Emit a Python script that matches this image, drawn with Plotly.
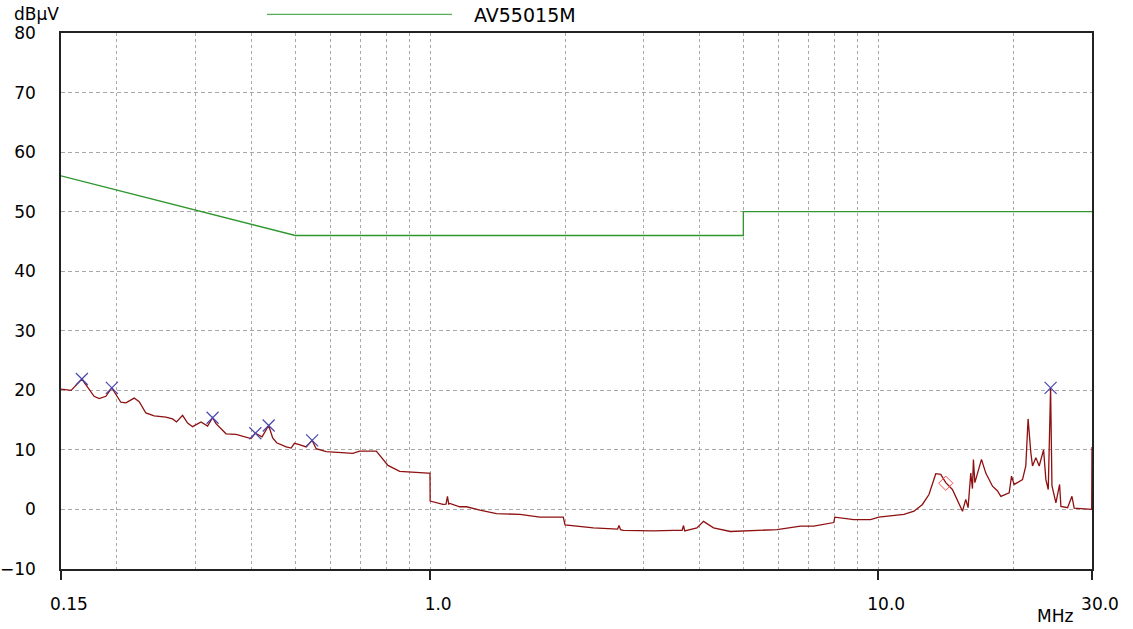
import plotly.graph_objects as go
import numpy as np

# ---- data ----
freq_mhz = [0.150, 0.158, 0.167, 0.1778, 0.1825, 0.1889, 0.1948, 0.2040, 0.2094, 0.2185,
            0.2242, 0.2320, 0.2421, 0.2571, 0.2661, 0.2716, 0.2802, 0.2875, 0.2950, 0.3080,
            0.3186, 0.3269, 0.3327, 0.3503, 0.3687, 0.3848, 0.3983, 0.4072, 0.4215, 0.4361,
            0.4452, 0.4544, 0.4771, 0.4894, 0.4978, 0.5108, 0.5288, 0.5453, 0.5566, 0.5861,
            0.6276, 0.6722, 0.6958, 0.7582, 0.8051, 0.8550, 0.989, 0.999, 1.000, 1.068,
            1.085, 1.093, 1.100, 1.106, 1.164, 1.205, 1.291, 1.406, 1.586, 1.758,
            1.982, 2.000, 2.313, 2.620, 2.640, 2.660, 2.700, 3.150, 3.493, 3.650,
            3.677, 3.700, 3.741, 3.939, 4.075, 4.290, 4.676, 5.272, 5.948, 6.707,
            7.181, 7.959, 8.000, 8.823, 9.614, 10.03, 11.41, 12.02, 12.55, 12.98,
            13.44, 13.79, 14.15, 14.64, 15.03, 15.42, 15.68, 15.87, 16.09, 16.23,
            16.31, 16.43, 16.59, 17.00, 17.38, 17.99, 18.46, 18.78, 19.60, 19.84,
            20.11, 20.99, 21.35, 21.60, 21.91, 22.10, 22.48, 22.87, 23.39, 23.67,
            23.96, 24.13, 24.25, 24.42, 24.92, 25.40, 25.57, 26.46, 27.06, 27.38,
            29.84, 29.95, 30.0]
level_dbuv = [20.2, 20.0, 21.9, 19.0, 18.6, 19.0, 20.4, 18.0, 17.9, 18.7,
              18.1, 16.2, 15.7, 15.5, 15.2, 14.7, 15.8, 14.5, 13.9, 14.7,
              14.0, 15.4, 14.4, 12.7, 12.6, 12.2, 11.9, 12.8, 12.2, 14.1,
              12.0, 11.2, 10.5, 10.3, 11.1, 10.9, 10.5, 11.6, 10.2, 9.7,
              9.5, 9.4, 9.8, 9.8, 7.4, 6.4, 6.1, 6.1, 1.4, 0.84,
              0.9, 2.2, 0.9, 1.0, 0.45, 0.45, -0.1, -0.7, -0.84, -1.3,
              -1.3, -2.6, -3.1, -3.3, -2.7, -3.4, -3.5, -3.6, -3.5, -3.5,
              -2.7, -3.6, -3.5, -3.1, -2.0, -3.1, -3.7, -3.5, -3.4, -2.8,
              -2.8, -2.2, -1.3, -1.7, -1.7, -1.3, -0.84, -0.3, 0.84, 2.5,
              6.0, 5.9, 4.5, 3.35, 1.4, -0.3, 1.7, 0.3, 6.1, 3.5,
              8.4, 4.5, 5.6, 8.4, 6.1, 3.9, 3.1, 2.2, 2.8, 5.6,
              4.2, 5.0, 7.3, 15.2, 9.5, 7.3, 8.7, 7.3, 10.0, 5.0,
              3.35, 11.7, 20.4, 4.0, 1.1, 4.2, 0.5, 0.3, 2.2, 0.2,
              0.0, 0.0, 10.5]

peak_freq = [0.167, 0.1948, 0.3269, 0.4072, 0.4361, 0.5453, 24.25]
peak_level = [21.9, 20.4, 15.4, 12.8, 14.1, 11.6, 20.4]

diamond_freq = [14.15]
diamond_level = [4.4]

limit_freq = [0.15, 0.5, 5.0, 5.0, 30.0]
limit_level = [56, 46, 46, 50, 50]
limit_name = "AV55015M"

x_tickvals = [0.15, 1.0, 10.0, 30.0]
x_ticktext = ["0.15", "1.0", "10.0", "30.0"]
x_minor_grid = [0.2, 0.3, 0.4, 0.5, 0.6, 0.7, 0.8, 0.9,
                2, 3, 4, 5, 6, 7, 8, 9, 20]
y_tickvals = [-10, 0, 10, 20, 30, 40, 50, 60, 70, 80]

FONT = "DejaVu Sans"
GREEN = "#2f962f"
RED = "#8e1010"

fig = go.Figure()
fig.add_trace(go.Scatter(x=limit_freq, y=limit_level, mode="lines",
                         line=dict(color=GREEN, width=1.3), name=limit_name,
                         showlegend=False, hoverinfo="skip"))
fig.add_trace(go.Scatter(x=freq_mhz, y=level_dbuv, mode="lines",
                         line=dict(color=RED, width=1.3), showlegend=False))
fig.add_trace(go.Scatter(x=peak_freq, y=peak_level, mode="markers",
                         marker=dict(symbol="x-thin", size=12, color="#4848b0",
                                     line=dict(color="#4848b0", width=1.2)),
                         showlegend=False))
fig.add_trace(go.Scatter(x=diamond_freq, y=diamond_level, mode="markers",
                         marker=dict(symbol="diamond-open", size=11, color="#ff4a4a",
                                     line=dict(color="#ff4a4a", width=1)),
                         showlegend=False))

# legend line + text (drawn manually to match the long sample line)
fig.add_shape(type="line", xref="paper", yref="paper",
              x0=0.1998, x1=0.3792, y0=1.0349, y1=1.0349,
              line=dict(color="#55b055", width=1.3))
fig.add_annotation(text=limit_name, xref="paper", yref="paper",
                   x=0.3986, y=(569 - 15) / 536, xanchor="left", yanchor="middle",
                   showarrow=False, font=dict(family=FONT, size=19, color="black"))
fig.add_annotation(text="dBµV", xref="paper", yref="paper",
                   x=-0.0233, y=(569 - 14) / 536, xanchor="center", yanchor="middle",
                   showarrow=False, font=dict(family=FONT, size=17, color="black"))
fig.add_annotation(text="MHz", xref="paper", yref="paper",
                   x=(1055 - 61) / 1031, y=-(616 - 569) / 536,
                   xanchor="center", yanchor="middle",
                   showarrow=False, font=dict(family=FONT, size=17, color="black"))

fig.update_layout(
    width=1133, height=629,
    margin=dict(l=61, r=41, t=33, b=60, autoexpand=False),
    paper_bgcolor="white", plot_bgcolor="white",
    font=dict(family=FONT, size=17, color="black"),
    showlegend=False,
    xaxis=dict(
        type="log", automargin=False,
        range=[np.log10(0.15), np.log10(30)],
        tickmode="array", tickvals=x_tickvals, ticktext=x_ticktext,
        ticks="outside", ticklen=9, tickwidth=1.5, tickcolor="#222",
        ticklabelstandoff=10, ticklabelshift=8,
        showgrid=True, gridcolor="#a8a8a8", gridwidth=1, griddash="3px,3px",
        minor=dict(tickmode="array", tickvals=x_minor_grid, showgrid=True,
                   gridcolor="#a8a8a8", gridwidth=1, griddash="3px,3px", ticks=""),
        showline=True, linecolor="#222", linewidth=1.5, mirror=True,
        zeroline=False,
    ),
    yaxis=dict(
        range=[-10, 80], automargin=False,
        tickmode="array", tickvals=y_tickvals,
        ticks="", ticklabelstandoff=20,
        showgrid=True, gridcolor="#a8a8a8", gridwidth=1, griddash="4px,3px",
        showline=True, linecolor="#222", linewidth=1.5, mirror=True,
        zeroline=False,
    ),
)

# remove the browser's default 8px body margin so the figure fills the window
fig.write_html("out.html",
               config={"displayModeBar": False},
               post_script="document.body.style.margin='0';document.body.style.overflow='hidden';")
